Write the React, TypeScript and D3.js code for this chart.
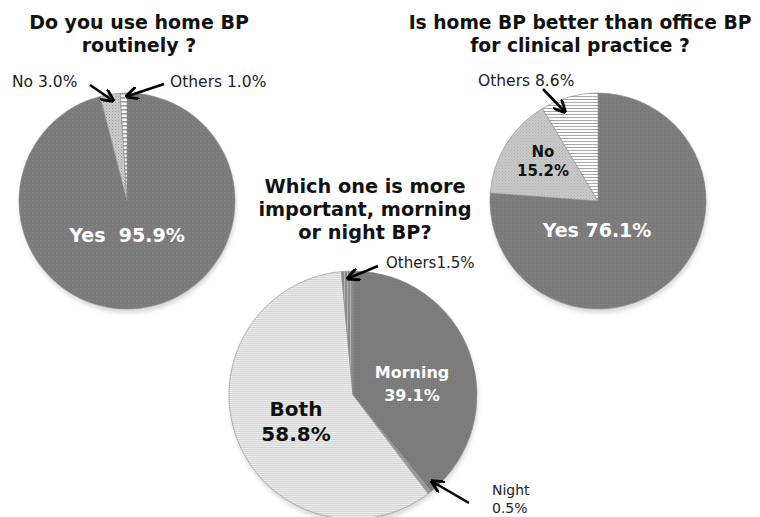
import React from "react";
import * as d3 from "d3";

const pie1Labels = ["Yes", "No", "Others"];
const pie1Values = [95.9, 3.0, 1.0];
const pie2Labels = ["Yes", "No", "Others"];
const pie2Values = [76.1, 15.2, 8.6];
const pie3Labels = ["Morning", "Night", "Both", "Others"];
const pie3Values = [39.1, 0.5, 58.8, 1.5];

const FILLS: Record<string, string> = {
  "1-Yes": "url(#pDark)",
  "1-No": "url(#pDots)",
  "1-Others": "url(#pLadder)",
  "2-Yes": "url(#pDark)",
  "2-No": "url(#pDots2)",
  "2-Others": "url(#pHStripe)",
  "3-Morning": "url(#pDark)",
  "3-Night": "#9a9a9a",
  "3-Both": "url(#pLight)",
  "3-Others": "url(#pVStripe)",
};

const TITLE_FONT = "'DejaVu Sans', Verdana, sans-serif";
const LABEL_FONT = "'DejaVu Sans', Verdana, sans-serif";

function Pie({ id, labels, values, cx, cy, r }: { id: number; labels: string[]; values: number[]; cx: number; cy: number; r: number }) {
  const pie = d3.pie<number>().sort(null).value((d) => d)(values);
  const arc = d3.arc<d3.PieArcDatum<number>>().innerRadius(0).outerRadius(r);
  return (
    <g transform={`translate(${cx},${cy})`}>
      <ellipse cx={1} cy={4} rx={r} ry={r} fill="#d8d8d8" filter="url(#blur)" />
      {pie.map((p, i) => (
        <path key={i} d={arc(p) || ""} fill={FILLS[`${id}-${labels[i]}`]} stroke="#8a8a8a" strokeWidth={0.6} />
      ))}
    </g>
  );
}

function Arrow({ x1, y1, x2, y2 }: { x1: number; y1: number; x2: number; y2: number }) {
  return <line x1={x1} y1={y1} x2={x2} y2={y2} stroke="#000" strokeWidth={2.6} markerEnd="url(#arrowHead)" />;
}

export default function App() {
  return (
    <svg width={760} height={517} style={{ position: "absolute", left: 0, top: 0, background: "#fff" }}>
      <defs>
        <filter id="blur" x="-20%" y="-20%" width="140%" height="140%">
          <feGaussianBlur stdDeviation={2} />
        </filter>
        <marker id="arrowHead" viewBox="0 0 10 10" refX={8} refY={5} markerWidth={5} markerHeight={5} orient="auto">
          <path d="M0,0 L10,5 L0,10" fill="none" stroke="#000" strokeWidth={2.2} />
        </marker>
        <pattern id="pDark" width={4} height={4} patternUnits="userSpaceOnUse">
          <rect width={4} height={4} fill="#7d7d7d" />
          <rect x={0} y={0} width={1} height={1} fill="#727272" />
          <rect x={2} y={2} width={1} height={1} fill="#727272" />
          <rect x={1} y={3} width={1} height={1} fill="#858585" />
        </pattern>
        <pattern id="pDots" width={3} height={3} patternUnits="userSpaceOnUse">
          <rect width={3} height={3} fill="#cdcdcd" />
          <rect x={0} y={0} width={1} height={1} fill="#9a9a9a" />
          <rect x={1.5} y={1.5} width={1} height={1} fill="#aaaaaa" />
        </pattern>
        <pattern id="pDots2" width={3} height={3} patternUnits="userSpaceOnUse">
          <rect width={3} height={3} fill="#c9c9c9" />
          <rect x={0} y={0} width={1} height={1} fill="#b0b0b0" />
          <rect x={1.5} y={1.5} width={1} height={1} fill="#b8b8b8" />
        </pattern>
        <pattern id="pLadder" width={4} height={4} patternUnits="userSpaceOnUse">
          <rect width={4} height={4} fill="#ffffff" />
          <rect x={0} y={0} width={4} height={1.6} fill="#9a9a9a" />
        </pattern>
        <pattern id="pHStripe" width={3} height={3} patternUnits="userSpaceOnUse">
          <rect width={3} height={3} fill="#ffffff" />
          <rect x={0} y={0} width={3} height={1} fill="#a6a6a6" />
        </pattern>
        <pattern id="pLight" width={2} height={2} patternUnits="userSpaceOnUse">
          <rect width={2} height={2} fill="#ececec" />
          <rect x={0} y={0} width={2} height={0.8} fill="#d0d0d0" />
        </pattern>
        <pattern id="pVStripe" width={3} height={3} patternUnits="userSpaceOnUse">
          <rect width={3} height={3} fill="#8a8a8a" />
          <rect x={0} y={0} width={1} height={3} fill="#b5b5b5" />
        </pattern>
      </defs>

      {/* Pie 1 */}
      <text x={139} y={29} textAnchor="middle" fontFamily={TITLE_FONT} fontWeight="bold" fontSize={19} fill="#111">Do you use home BP</text>
      <text x={139} y={52} textAnchor="middle" fontFamily={TITLE_FONT} fontWeight="bold" fontSize={19} fill="#111">routinely ?</text>
      <Pie id={1} labels={pie1Labels} values={pie1Values} cx={127} cy={201} r={108} />
      <text x={127} y={242} textAnchor="middle" fontFamily={TITLE_FONT} fontWeight="bold" fontSize={19} fill="#fff">{`${pie1Labels[0]}\u00a0\u00a0${pie1Values[0].toFixed(1)}%`}</text>
      <text x={12} y={87} fontFamily={LABEL_FONT} fontSize={15.5} fill="#222">{`${pie1Labels[1]} ${pie1Values[1].toFixed(1)}%`}</text>
      <text x={170} y={87} fontFamily={LABEL_FONT} fontSize={15.5} fill="#222">{`${pie1Labels[2]} ${pie1Values[2].toFixed(1)}%`}</text>
      <Arrow x1={90} y1={85} x2={112} y2={100} />
      <Arrow x1={164} y1={84} x2={128} y2={96} />

      {/* Pie 2 */}
      <text x={580} y={29} textAnchor="middle" fontFamily={TITLE_FONT} fontWeight="bold" fontSize={18.7} fill="#111">Is home BP better than office BP</text>
      <text x={580} y={52} textAnchor="middle" fontFamily={TITLE_FONT} fontWeight="bold" fontSize={18.7} fill="#111">for clinical practice ?</text>
      <Pie id={2} labels={pie2Labels} values={pie2Values} cx={598} cy={201} r={108} />
      <text x={597} y={237} textAnchor="middle" fontFamily={TITLE_FONT} fontWeight="bold" fontSize={19} fill="#fff">{`${pie2Labels[0]} ${pie2Values[0].toFixed(1)}%`}</text>
      <text x={543} y={157} textAnchor="middle" fontFamily={TITLE_FONT} fontWeight="bold" fontSize={15} fill="#111">{pie2Labels[1]}</text>
      <text x={543} y={176} textAnchor="middle" fontFamily={TITLE_FONT} fontWeight="bold" fontSize={15} fill="#111">{`${pie2Values[1].toFixed(1)}%`}</text>
      <text x={478} y={86} fontFamily={LABEL_FONT} fontSize={15.5} fill="#222">{`${pie2Labels[2]} ${pie2Values[2].toFixed(1)}%`}</text>
      <Arrow x1={543} y1={89} x2={564} y2={111} />

      {/* Pie 3 */}
      <text x={365} y={193} textAnchor="middle" fontFamily={TITLE_FONT} fontWeight="bold" fontSize={19.3} fill="#111">Which one is more</text>
      <text x={365} y={216} textAnchor="middle" fontFamily={TITLE_FONT} fontWeight="bold" fontSize={19.3} fill="#111">important, morning</text>
      <text x={365} y={239} textAnchor="middle" fontFamily={TITLE_FONT} fontWeight="bold" fontSize={19.3} fill="#111">or night BP?</text>
      <Pie id={3} labels={pie3Labels} values={pie3Values} cx={353} cy={395} r={124} />
      <text x={412} y={378} textAnchor="middle" fontFamily={TITLE_FONT} fontWeight="bold" fontSize={16} fill="#fff">{pie3Labels[0]}</text>
      <text x={412} y={401} textAnchor="middle" fontFamily={TITLE_FONT} fontWeight="bold" fontSize={16} fill="#fff">{`${pie3Values[0].toFixed(1)}%`}</text>
      <text x={296} y={416} textAnchor="middle" fontFamily={TITLE_FONT} fontWeight="bold" fontSize={20} fill="#111">{pie3Labels[2]}</text>
      <text x={296} y={441} textAnchor="middle" fontFamily={TITLE_FONT} fontWeight="bold" fontSize={20} fill="#111">{`${pie3Values[2].toFixed(1)}%`}</text>
      <text x={386} y={268} fontFamily={LABEL_FONT} fontSize={15} fill="#222">{`${pie3Labels[3]}${pie3Values[3].toFixed(1)}%`}</text>
      <Arrow x1={378} y1={266} x2={349} y2={278} />
      <text x={492} y={495} fontFamily={LABEL_FONT} fontSize={14} fill="#222">{pie3Labels[1]}</text>
      <text x={492} y={513} fontFamily={LABEL_FONT} fontSize={14} fill="#222">{`${pie3Values[1].toFixed(1)}%`}</text>
      <Arrow x1={469} y1={503} x2={433} y2={482} />
    </svg>
  );
}
